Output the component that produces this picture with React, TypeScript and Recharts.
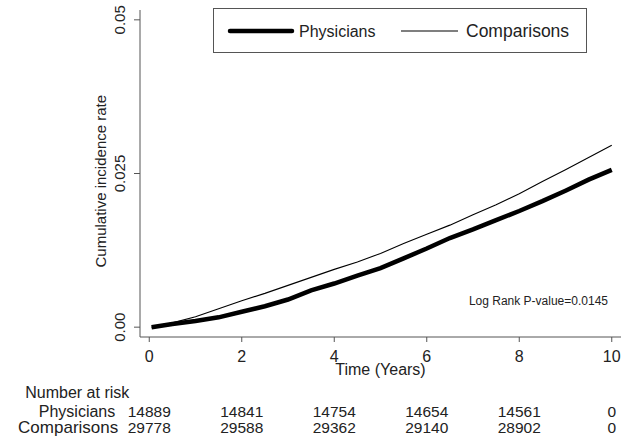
import { Line, LineChart, XAxis, YAxis } from "recharts";

const years = [0.05, 0.5, 1, 1.5, 2, 2.5, 3, 3.5, 4, 4.5, 5, 5.5, 6, 6.5, 7, 7.5, 8, 8.5, 9, 9.5, 10];
const physicians = [
  0, 0.0005, 0.001, 0.0016, 0.0025, 0.0034, 0.0045, 0.006, 0.0071, 0.0084, 0.0096, 0.0112, 0.0128, 0.0145,
  0.0159, 0.0174, 0.0189, 0.0205, 0.0222, 0.024, 0.0256,
];
const comparisons = [
  0, 0.0007, 0.0017, 0.003, 0.0043, 0.0055, 0.0068, 0.0081, 0.0094, 0.0106, 0.012, 0.0136, 0.0151, 0.0166,
  0.0183, 0.0199, 0.0217, 0.0237, 0.0256, 0.0276, 0.0296,
];

const xTicks = [0, 2, 4, 6, 8, 10];
const yTicks = [0, 0.025, 0.05];
const yTickLabels = ["0.00", "0.025", "0.05"];
const riskPhysicians = [14889, 14841, 14754, 14654, 14561, 0];
const riskComparisons = [29778, 29588, 29362, 29140, 28902, 0];

const data = years.map((t, i) => ({ t, physicians: physicians[i], comparisons: comparisons[i] }));

const font = "'Liberation Sans', Arial, sans-serif";
const ink = "#222";

function XTick({ x, y, payload, index }: any) {
  return (
    <g fontFamily={font} fill={ink}>
      <text x={x} y={y} dy={20} textAnchor="middle" fontSize={16}>
        {payload.value}
      </text>
      <text x={x} y={y} dy={75} textAnchor="middle" fontSize={15.5}>
        {riskPhysicians[index]}
      </text>
      <text x={x} y={y} dy={91} textAnchor="middle" fontSize={15.5}>
        {riskComparisons[index]}
      </text>
      {index === 0 && (
        <>
          <text x={x - 124} y={y} dy={56} fontSize={16}>
            Number at risk
          </text>
          <text x={x - 34} y={y} dy={75} textAnchor="end" fontSize={16}>
            Physicians
          </text>
          <text x={x - 31} y={y} dy={91} textAnchor="end" fontSize={17}>
            Comparisons
          </text>
        </>
      )}
    </g>
  );
}

function YTick({ x, y, index }: any) {
  return (
    <g transform={`translate(${x - 14},${y}) rotate(-90)`}>
      <text x={0} y={0} dy="0.35em" textAnchor="middle" fontSize={15} fontFamily={font} fill={ink}>
        {yTickLabels[index]}
      </text>
    </g>
  );
}

function LegendBox() {
  return (
    <div
      style={{
        position: "absolute",
        left: 213,
        top: 8,
        width: 372,
        height: 43,
        border: "1px solid #555",
        background: "#fff",
      }}
    >
      <svg width={372} height={43} style={{ position: "absolute", left: 0, top: 0 }}>
        <line x1={16} x2={78} y1={22} y2={22} stroke="#000" strokeWidth={4.5} strokeLinecap="round" />
        <text x={85} y={27.5} fontSize={16} fontFamily={font} fill={ink}>
          Physicians
        </text>
        <line x1={187} x2={244} y1={22} y2={22} stroke="#000" strokeWidth={1.1} />
        <text x={252} y={27.5} fontSize={17.5} fontFamily={font} fill={ink}>
          Comparisons
        </text>
      </svg>
    </div>
  );
}

export default function App() {
  return (
    <div style={{ position: "absolute", left: 0, top: 0, width: 633, height: 441, background: "#fff" }}>
      <LineChart width={633} height={441} data={data} margin={{ top: 10, right: 12, bottom: 0, left: 80 }}>
        <XAxis
          dataKey="t"
          type="number"
          domain={[-0.2, 10.2]}
          ticks={xTicks}
          tick={<XTick />}
          tickSize={5}
          tickMargin={0}
          stroke="#555"
          interval={0}
          height={104}
          label={{
            value: "Time (Years)",
            position: "insideTop",
            offset: 0,
            dy: 27,
            fill: ink,
            fontSize: 16,
            fontFamily: font,
          }}
        />
        <YAxis
          type="number"
          domain={[-0.0016, 0.0516]}
          ticks={yTicks}
          tick={<YTick />}
          tickSize={6}
          tickMargin={0}
          stroke="#555"
          interval={0}
          width={60}
          label={{
            value: "Cumulative incidence rate",
            angle: -90,
            position: "insideLeft",
            dx: 16,
            dy: 94,
            fill: ink,
            fontSize: 15,
            fontFamily: font,
          }}
        />
        <text x={608} y={305} textAnchor="end" fontSize={12} fontFamily={font} fill={ink}>
          Log Rank P-value=0.0145
        </text>
        <Line
          dataKey="comparisons"
          type="linear"
          stroke="#000"
          strokeWidth={1.1}
          dot={false}
          isAnimationActive={false}
        />
        <Line
          dataKey="physicians"
          type="linear"
          stroke="#000"
          strokeWidth={4.5}
          dot={false}
          isAnimationActive={false}
        />
      </LineChart>
      <LegendBox />
    </div>
  );
}
